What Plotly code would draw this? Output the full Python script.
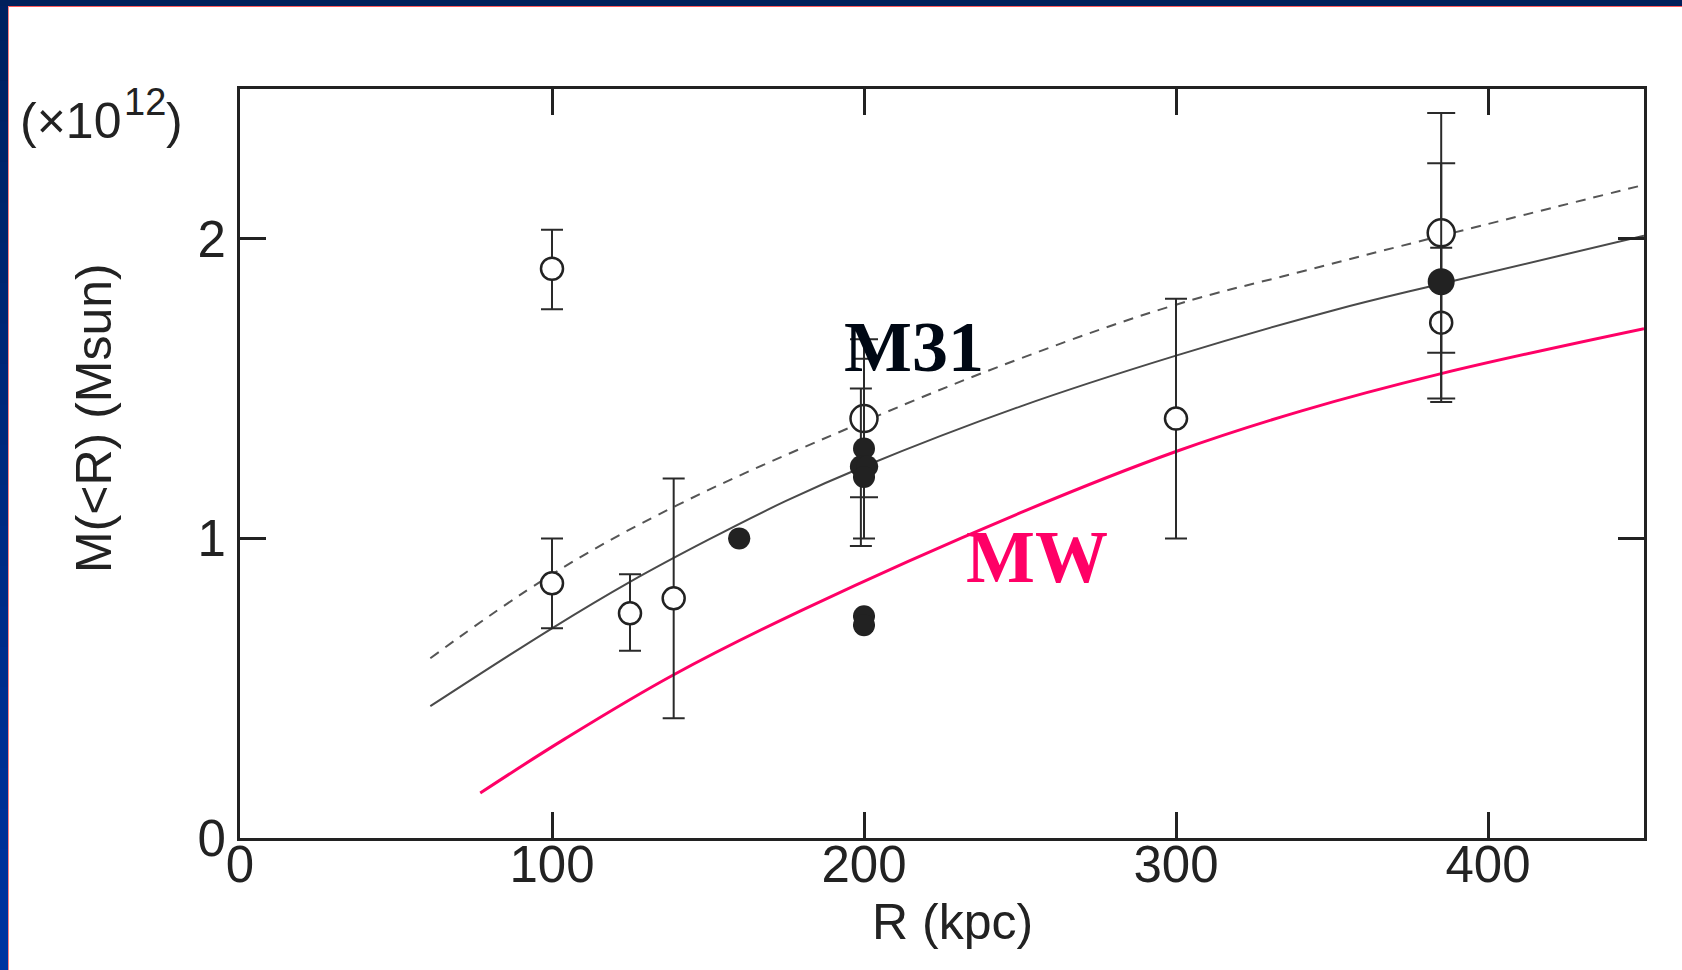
import plotly.graph_objects as go

# ---------------- data ----------------
# M31 model curves (solid = best fit, dashed = upper)
m31_solid_r = [61, 100, 125, 150, 175, 200, 250, 300, 350, 385, 450]
m31_solid_m = [0.44, 0.70, 0.855, 0.995, 1.125, 1.24, 1.44, 1.61, 1.76, 1.85, 2.01]
m31_dash_r = [61, 100, 140, 200, 250, 300, 340, 385, 450]
m31_dash_m = [0.60, 0.88, 1.11, 1.39, 1.60, 1.78, 1.89, 2.01, 2.18]
# Milky Way curve
mw_r = [77, 104, 139, 180, 250, 300, 340, 385, 450]
mw_m = [0.15, 0.33, 0.545, 0.76, 1.085, 1.29, 1.425, 1.55, 1.70]

# open circles (small)
open_r = [100, 100, 125, 139, 300, 385]
open_m = [1.90, 0.85, 0.75, 0.80, 1.40, 1.72]
open_ep = [0.13, 0.15, 0.13, 0.40, 0.40, 0.25]
open_em = [0.135, 0.15, 0.125, 0.40, 0.40, 0.265]
# open circles (large)
openL_r = [200, 385]
openL_m = [1.40, 2.02]
openL_ep = [0.265, 0.40]
openL_em = [0.263, 0.40]
# filled circles (small)
fill_r = [160, 200, 199, 201, 200, 200, 200]
fill_m = [1.00, 1.30, 1.24, 1.24, 1.205, 0.74, 0.71]
fill_ep = [0, 0.30, 0.26, 0, 0, 0, 0]
fill_em = [0, 0.30, 0.265, 0, 0, 0, 0]
# filled circle (large)
fillL_r = [385]
fillL_m = [1.857]
fillL_ep = [0.395]
fillL_em = [0.39]

x_ticks = [0, 100, 200, 300, 400]
y_ticks = [0, 1, 2]

# ---------------- layout geometry ----------------
W, H = 1682, 970
L, R, T, B = 240, 1644, 89, 838


def px(x):
    return (x - L) / (R - L)


def py(y):
    return (B - y) / (B - T)


INK = "#222222"
PINK = "#FF0066"
SANS = "Liberation Sans, Arial, sans-serif"
SERIF = "Liberation Serif, Times New Roman, serif"

fig = go.Figure()

fig.add_trace(go.Scatter(x=m31_dash_r, y=m31_dash_m, mode="lines",
                         line=dict(color="#555555", width=2, dash="10px,8px", shape="spline", smoothing=1.1),
                         hoverinfo="skip", showlegend=False))
fig.add_trace(go.Scatter(x=m31_solid_r, y=m31_solid_m, mode="lines",
                         line=dict(color="#4a4a4a", width=2, shape="spline", smoothing=1.1),
                         hoverinfo="skip", showlegend=False))
fig.add_trace(go.Scatter(x=mw_r, y=mw_m, mode="lines",
                         line=dict(color=PINK, width=3, shape="spline", smoothing=1.1),
                         hoverinfo="skip", showlegend=False))


def err(ep, em, w):
    return dict(type="data", symmetric=False, array=ep, arrayminus=em,
                color="#2a2a2a", thickness=2, width=w)


fig.add_trace(go.Scatter(x=open_r, y=open_m, mode="markers",
                         marker=dict(symbol="circle", size=22, color="white",
                                     line=dict(color=INK, width=2.5)),
                         error_y=err(open_ep, open_em, 11), showlegend=False))
fig.add_trace(go.Scatter(x=openL_r, y=openL_m, mode="markers",
                         marker=dict(symbol="circle", size=27, color="white",
                                     line=dict(color=INK, width=2.5)),
                         error_y=err(openL_ep, openL_em, 14), showlegend=False))
fig.add_trace(go.Scatter(x=fill_r, y=fill_m, mode="markers",
                         marker=dict(symbol="circle", size=22, color=INK,
                                     line=dict(color=INK, width=0)),
                         error_y=err(fill_ep, fill_em, 11), showlegend=False))
fig.add_trace(go.Scatter(x=fillL_r, y=fillL_m, mode="markers",
                         marker=dict(symbol="circle", size=27, color=INK,
                                     line=dict(color=INK, width=0)),
                         error_y=err(fillL_ep, fillL_em, 14), showlegend=False))

axis_common = dict(showline=True, linewidth=3, linecolor=INK, mirror="ticks",
                   ticks="inside", ticklen=26, tickwidth=3, tickcolor=INK,
                   showgrid=False, zeroline=False,
                   tickfont=dict(family=SANS, size=51, color=INK))

fig.update_xaxes(range=[0, 450], tickvals=x_ticks, ticktext=[str(v) for v in x_ticks],
                 ticklabelstandoff=-20, **axis_common)
fig.update_yaxes(range=[0, 2.5], tickvals=y_ticks, ticktext=[str(v) for v in y_ticks],
                 ticklabelstandoff=1, **axis_common)

# slide-style borders
shapes = []
n = 24
for i in range(n):
    t = i / (n - 1)
    c = "rgb(%d,%d,%d)" % (0, int(32 + (51 - 32) * t), int(96 + (160 - 96) * t))
    shapes.append(dict(type="rect", xref="paper", yref="paper", layer="above",
                       x0=px(0), x1=px(8), y0=py(H * i / n), y1=py(H * (i + 1) / n + 1),
                       line=dict(width=0), fillcolor=c))
shapes.append(dict(type="rect", xref="paper", yref="paper", layer="above",
                   x0=px(0), x1=px(W), y0=py(0), y1=py(6),
                   line=dict(width=0), fillcolor="#00205B"))
shapes.append(dict(type="rect", xref="paper", yref="paper", layer="above",
                   x0=px(8), x1=px(W), y0=py(6), y1=py(7),
                   line=dict(width=0), fillcolor="#FF5A5A"))
shapes.append(dict(type="rect", xref="paper", yref="paper", layer="above",
                   x0=px(8), x1=px(9), y0=py(6), y1=py(H),
                   line=dict(width=0), fillcolor="#FF8080"))

annotations = [
    dict(text="(\u00d710", xref="paper", yref="paper",
         x=px(18), y=py(121), xanchor="left", yanchor="middle", showarrow=False,
         font=dict(family=SANS, size=50, color=INK)),
    dict(text="12", xref="paper", yref="paper",
         x=px(122), y=py(102), xanchor="left", yanchor="middle", showarrow=False,
         font=dict(family=SANS, size=38, color=INK)),
    dict(text=")", xref="paper", yref="paper",
         x=px(164), y=py(121), xanchor="left", yanchor="middle", showarrow=False,
         font=dict(family=SANS, size=50, color=INK)),
    dict(text="M(&lt;R) (Msun)", xref="paper", yref="paper",
         x=px(94), y=py(418), xanchor="center", yanchor="middle", textangle=-90,
         showarrow=False, font=dict(family=SANS, size=50, color=INK)),
    dict(text="R (kpc)", xref="paper", yref="paper",
         x=px(952), y=py(922), xanchor="center", yanchor="middle", showarrow=False,
         font=dict(family=SANS, size=50, color=INK)),
    dict(text="<b>M31</b>", xref="x", yref="y", x=216, y=1.639,
         xanchor="center", yanchor="middle", showarrow=False,
         font=dict(family=SERIF, size=72, color="#000814")),
    dict(text="<b>MW</b>", xref="x", yref="y", x=255.4, y=0.936,
         xanchor="center", yanchor="middle", showarrow=False,
         font=dict(family=SERIF, size=73, color=PINK)),
]

fig.update_layout(width=W, height=H, autosize=False,
                  margin=dict(l=L, r=W - R, t=T, b=H - B, pad=0),
                  paper_bgcolor="white", plot_bgcolor="white",
                  shapes=shapes, annotations=annotations, showlegend=False)

fig.write_html("out.html", config={"displayModeBar": False})
